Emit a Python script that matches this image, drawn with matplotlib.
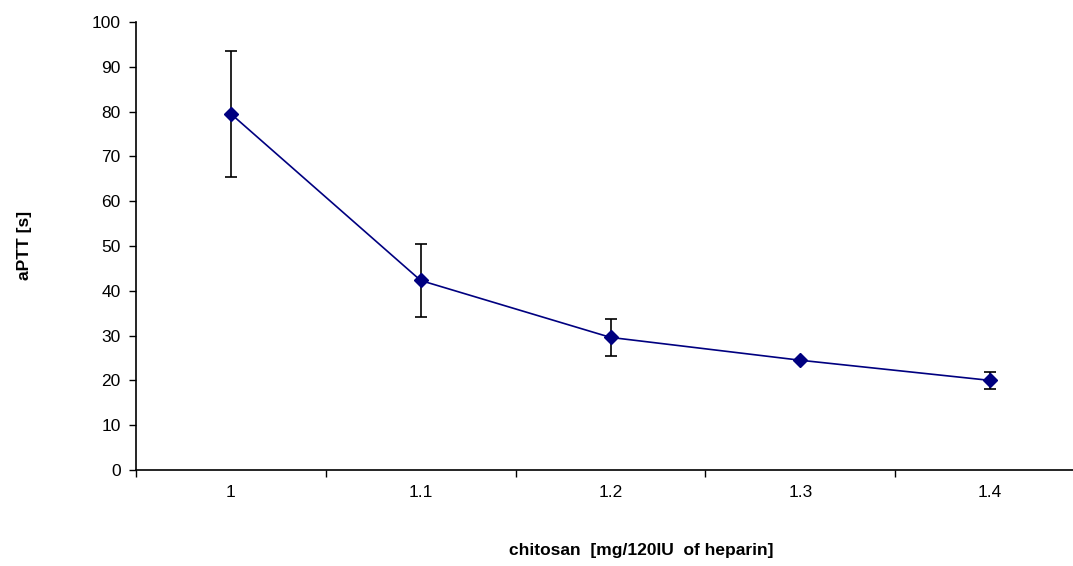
import numpy as np
import matplotlib
matplotlib.use("Agg")
import matplotlib.pyplot as plt

plt.rcParams['font.family'] = ['Liberation Sans', 'DejaVu Sans']

# chitosan dose per 120 IU heparin
doses = ['1', '1.1', '1.2', '1.3', '1.4']
aptt = [79.5, 42.3, 29.6, 24.5, 20.0]
aptt_err = [14.0, 8.1, 4.1, 0.0, 1.9]

fig = plt.figure(figsize=(10.73, 5.66), dpi=100)
# axis runs past the right edge like in the original crop
ax = fig.add_axes([136 / 1073, 1 - 470 / 566, (1085 - 136) / 1073, (470 - 22) / 566])

x = np.arange(len(doses))
ax.errorbar(x, aptt, yerr=aptt_err, fmt='none', ecolor='black', elinewidth=1.2,
            capsize=4, capthick=1.2, zorder=2)
ax.plot(x, aptt, color='#000080', lw=1.2, marker='D', markersize=7,
        markerfacecolor='#000080', markeredgecolor='#000080', zorder=3)

ax.set_xlim(-0.5, len(doses) - 0.5)
ax.set_ylim(0, 100)
ax.set_yticks(np.arange(0, 101, 10))
ax.set_xticks(x)
ax.set_xticklabels(doses)
ax.set_xticks(np.arange(-0.5, len(doses), 1.0), minor=True)
ax.tick_params(axis='x', which='major', length=0, pad=11, labelsize=12.5)
ax.tick_params(axis='x', which='minor', length=5, direction='out', width=1)
ax.tick_params(axis='y', length=5, direction='out', width=1, labelsize=12.5, pad=6)

for side in ['top', 'right']:
    ax.spines[side].set_visible(False)
for side in ['left', 'bottom']:
    ax.spines[side].set_linewidth(1.2)

fig.text(25 / 1073, 1 - 245 / 566, 'aPTT [s]', rotation=90, fontsize=12.5,
         fontweight='bold', ha='center', va='center')
fig.text(641 / 1073, 1 - 550 / 566, 'chitosan  [mg/120IU  of heparin]', fontsize=12.5,
         fontweight='bold', ha='center', va='center')

fig.savefig('out.png', dpi=100)
